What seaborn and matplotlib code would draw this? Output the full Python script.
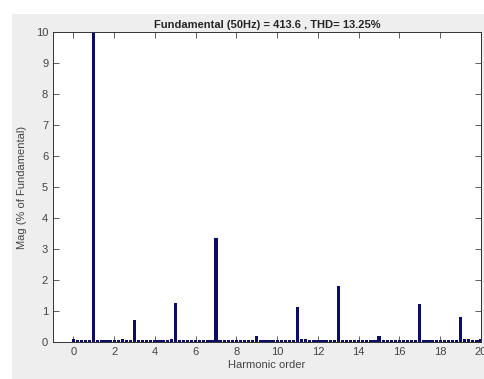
import numpy as np
import matplotlib
matplotlib.use("Agg")
import matplotlib.pyplot as plt
import seaborn as sns
from matplotlib.patches import Rectangle

# harmonic order axis (10 Hz resolution -> 0.2 harmonic steps)
harmonic = np.round(np.arange(0, 20.01, 0.2), 1)

# magnitude in % of fundamental
mag = [
    0.09, 0.07, 0.08, 0.08, 0.08, 100.0, 0.08, 0.07, 0.08, 0.06,
    0.08, 0.07, 0.09, 0.08, 0.08, 0.72, 0.08, 0.08, 0.07, 0.08,
    0.06, 0.08, 0.07, 0.08, 0.09, 1.25, 0.06, 0.07, 0.06, 0.08,
    0.07, 0.08, 0.06, 0.08, 0.07, 3.35, 0.08, 0.06, 0.08, 0.07,
    0.08, 0.06, 0.07, 0.08, 0.08, 0.20, 0.08, 0.07, 0.08, 0.06,
    0.08, 0.07, 0.08, 0.06, 0.08, 1.13, 0.11, 0.09, 0.08, 0.07,
    0.08, 0.06, 0.08, 0.07, 0.08, 1.82, 0.08, 0.06, 0.07, 0.08,
    0.06, 0.08, 0.07, 0.08, 0.06, 0.20, 0.08, 0.07, 0.08, 0.06,
    0.08, 0.07, 0.08, 0.06, 0.08, 1.22, 0.08, 0.06, 0.07, 0.08,
    0.06, 0.08, 0.07, 0.08, 0.08, 0.80, 0.10, 0.09, 0.08, 0.08,
    0.09,
]

title = "Fundamental (50Hz) = 413.6 , THD= 13.25%"

sns.set_style("white")
plt.rcParams["font.family"] = ["Liberation Sans", "DejaVu Sans"]

fig = plt.figure(figsize=(4.85, 3.79), dpi=100, facecolor="white")
fig.patches.append(Rectangle((12 / 485, 0), 1, 1 - 14 / 379,
                             transform=fig.transFigure, facecolor="#eeeeee",
                             edgecolor="none", zorder=-1))
ax = fig.add_axes([53 / 485, 1 - 342 / 379, 428 / 485, 310 / 379])

sns.barplot(x=harmonic, y=mag, native_scale=True, width=0.8,
            color="#0c0c66", saturation=1, linewidth=0, ax=ax)

ax.set_xlim(-1, 20)
ax.set_ylim(0, 10)
ax.set_xticks(range(0, 21, 2))
ax.set_yticks(range(0, 11))
ax.tick_params(direction="in", length=4, width=0.6, labelsize=8,
               colors="#444444", top=True, right=True,
               bottom=True, left=True, labeltop=False, labelright=False)
for sp in ax.spines.values():
    sp.set_visible(True)
    sp.set_color("#333333")
    sp.set_linewidth(0.7)

ax.set_title(title, fontsize=8, fontweight="bold", pad=3)
ax.set_xlabel("Harmonic order", fontsize=8, color="#444444", labelpad=2)
ax.set_ylabel("Mag (% of Fundamental)", fontsize=8, color="#444444", labelpad=6)

fig.savefig("out.png", dpi=100)
